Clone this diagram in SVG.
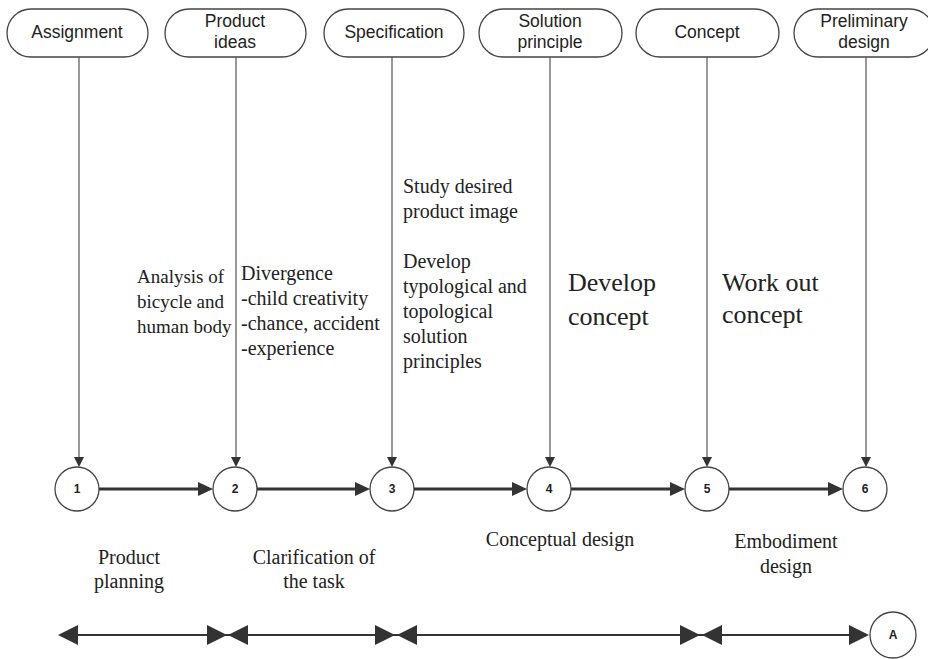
<svg xmlns="http://www.w3.org/2000/svg" width="928" height="659" viewBox="0 0 928 659">
<style>
.node{fill:#fff;stroke:#444;stroke-width:1.3}
.nt{font-family:"Liberation Sans",Arial,sans-serif;font-size:17.5px;fill:#222;text-anchor:middle}
.num{font-family:"Liberation Sans",Arial,sans-serif;font-size:12px;font-weight:bold;fill:#222;text-anchor:middle}
.lbl{font-family:"Liberation Serif","Times New Roman",serif;font-size:19px;fill:#222}
.lbl2{font-family:"Liberation Serif","Times New Roman",serif;font-size:20px;fill:#222}
.big{font-family:"Liberation Serif","Times New Roman",serif;font-size:26px;fill:#222}
.ph{font-family:"Liberation Serif","Times New Roman",serif;font-size:20px;fill:#222;text-anchor:middle}
.vl{stroke:#555;stroke-width:1.2;fill:none}
.hl{stroke:#333;stroke-width:3.2;fill:none}
.bl{stroke:#333;stroke-width:2;fill:none}
.ah{fill:#333}
</style>
<rect width="928" height="659" fill="#fff"/>

<g id="n-assignment"><rect class="node" x="7" y="9" width="141" height="48" rx="24"/><text class="nt" x="77" y="38">Assignment</text></g>
<g id="n-product-ideas"><rect class="node" x="165" y="9" width="141" height="48" rx="24"/><text class="nt" x="235" y="27">Product</text><text class="nt" x="235" y="48">ideas</text></g>
<g id="n-specification"><rect class="node" x="324" y="9" width="140" height="48" rx="24"/><text class="nt" x="394" y="38">Specification</text></g>
<g id="n-solution-principle"><rect class="node" x="479" y="9" width="143" height="48" rx="24"/><text class="nt" x="550" y="27">Solution</text><text class="nt" x="550" y="48">principle</text></g>
<g id="n-concept"><rect class="node" x="636" y="9" width="143" height="48" rx="24"/><text class="nt" x="707" y="38">Concept</text></g>
<g id="n-preliminary-design"><rect class="node" x="794" y="9" width="140" height="48" rx="24"/><text class="nt" x="864" y="27">Preliminary</text><text class="nt" x="864" y="48">design</text></g>

<g id="c1"><circle class="node" cx="77" cy="489" r="22"/><text class="num" x="77" y="493">1</text></g>
<g id="c2"><circle class="node" cx="235" cy="489" r="22"/><text class="num" x="235" y="493">2</text></g>
<g id="c3"><circle class="node" cx="392" cy="489" r="22"/><text class="num" x="392" y="493">3</text></g>
<g id="c4"><circle class="node" cx="549" cy="489" r="22"/><text class="num" x="549" y="493">4</text></g>
<g id="c5"><circle class="node" cx="707" cy="489" r="22"/><text class="num" x="707" y="493">5</text></g>
<g id="c6"><circle class="node" cx="865" cy="489" r="22"/><text class="num" x="865" y="493">6</text></g>
<g id="cA"><circle class="node" cx="893" cy="635" r="23"/><text class="num" x="893" y="639">A</text></g>

<g id="connectors">
  <line class="vl" x1="79" y1="57" x2="79" y2="458"/><polygon class="ah" points="74,457 84,457 79,467"/>
  <line class="vl" x1="236" y1="57" x2="236" y2="458"/><polygon class="ah" points="231,457 241,457 236,467"/>
  <line class="vl" x1="392" y1="57" x2="392" y2="458"/><polygon class="ah" points="387,457 397,457 392,467"/>
  <line class="vl" x1="550" y1="57" x2="550" y2="458"/><polygon class="ah" points="545,457 555,457 550,467"/>
  <line class="vl" x1="707" y1="57" x2="707" y2="458"/><polygon class="ah" points="702,457 712,457 707,467"/>
  <line class="vl" x1="866" y1="57" x2="866" y2="458"/><polygon class="ah" points="861,457 871,457 866,467"/>

  <line class="hl" x1="99" y1="489" x2="200" y2="489"/><polygon class="ah" points="198,482 213,489 198,496"/>
  <line class="hl" x1="257" y1="489" x2="357" y2="489"/><polygon class="ah" points="355,482 370,489 355,496"/>
  <line class="hl" x1="414" y1="489" x2="514" y2="489"/><polygon class="ah" points="512,482 527,489 512,496"/>
  <line class="hl" x1="571" y1="489" x2="672" y2="489"/><polygon class="ah" points="670,482 685,489 670,496"/>
  <line class="hl" x1="729" y1="489" x2="830" y2="489"/><polygon class="ah" points="828,482 843,489 828,496"/>

  <line class="bl" x1="70" y1="635" x2="860" y2="635"/>
  <polygon class="ah" points="58,635 78,625 78,645"/>
  <polygon class="ah" points="227,635 207,625 207,645"/>
  <polygon class="ah" points="228,635 248,625 248,645"/>
  <polygon class="ah" points="395,635 375,625 375,645"/>
  <polygon class="ah" points="397,635 417,625 417,645"/>
  <polygon class="ah" points="700,635 680,625 680,645"/>
  <polygon class="ah" points="702,635 722,625 722,645"/>
  <polygon class="ah" points="869,635 849,625 849,645"/>
</g>

<g id="labels">
  <text class="lbl" x="137" y="283">Analysis of</text>
  <text class="lbl" x="137" y="308">bicycle and</text>
  <text class="lbl" x="137" y="333">human body</text>
  <text class="lbl2" x="241" y="280">Divergence</text>
  <text class="lbl2" x="241" y="305">-child creativity</text>
  <text class="lbl2" x="241" y="330">-chance, accident</text>
  <text class="lbl2" x="241" y="355">-experience</text>
  <text class="lbl2" x="403" y="193">Study desired</text>
  <text class="lbl2" x="403" y="218">product image</text>
  <text class="lbl2" x="403" y="268">Develop</text>
  <text class="lbl2" x="403" y="293">typological and</text>
  <text class="lbl2" x="403" y="318">topological</text>
  <text class="lbl2" x="403" y="343">solution</text>
  <text class="lbl2" x="403" y="368">principles</text>
  <text class="big" x="568" y="291">Develop</text>
  <text class="big" x="568" y="325">concept</text>
  <text class="big" x="722" y="291">Work out</text>
  <text class="big" x="722" y="323">concept</text>
  <text class="ph" x="129" y="564">Product</text>
  <text class="ph" x="129" y="588">planning</text>
  <text class="ph" x="314" y="564">Clarification of</text>
  <text class="ph" x="314" y="588">the task</text>
  <text class="ph" x="560" y="546">Conceptual design</text>
  <text class="ph" x="786" y="548">Embodiment</text>
  <text class="ph" x="786" y="573">design</text>
</g>
</svg>
